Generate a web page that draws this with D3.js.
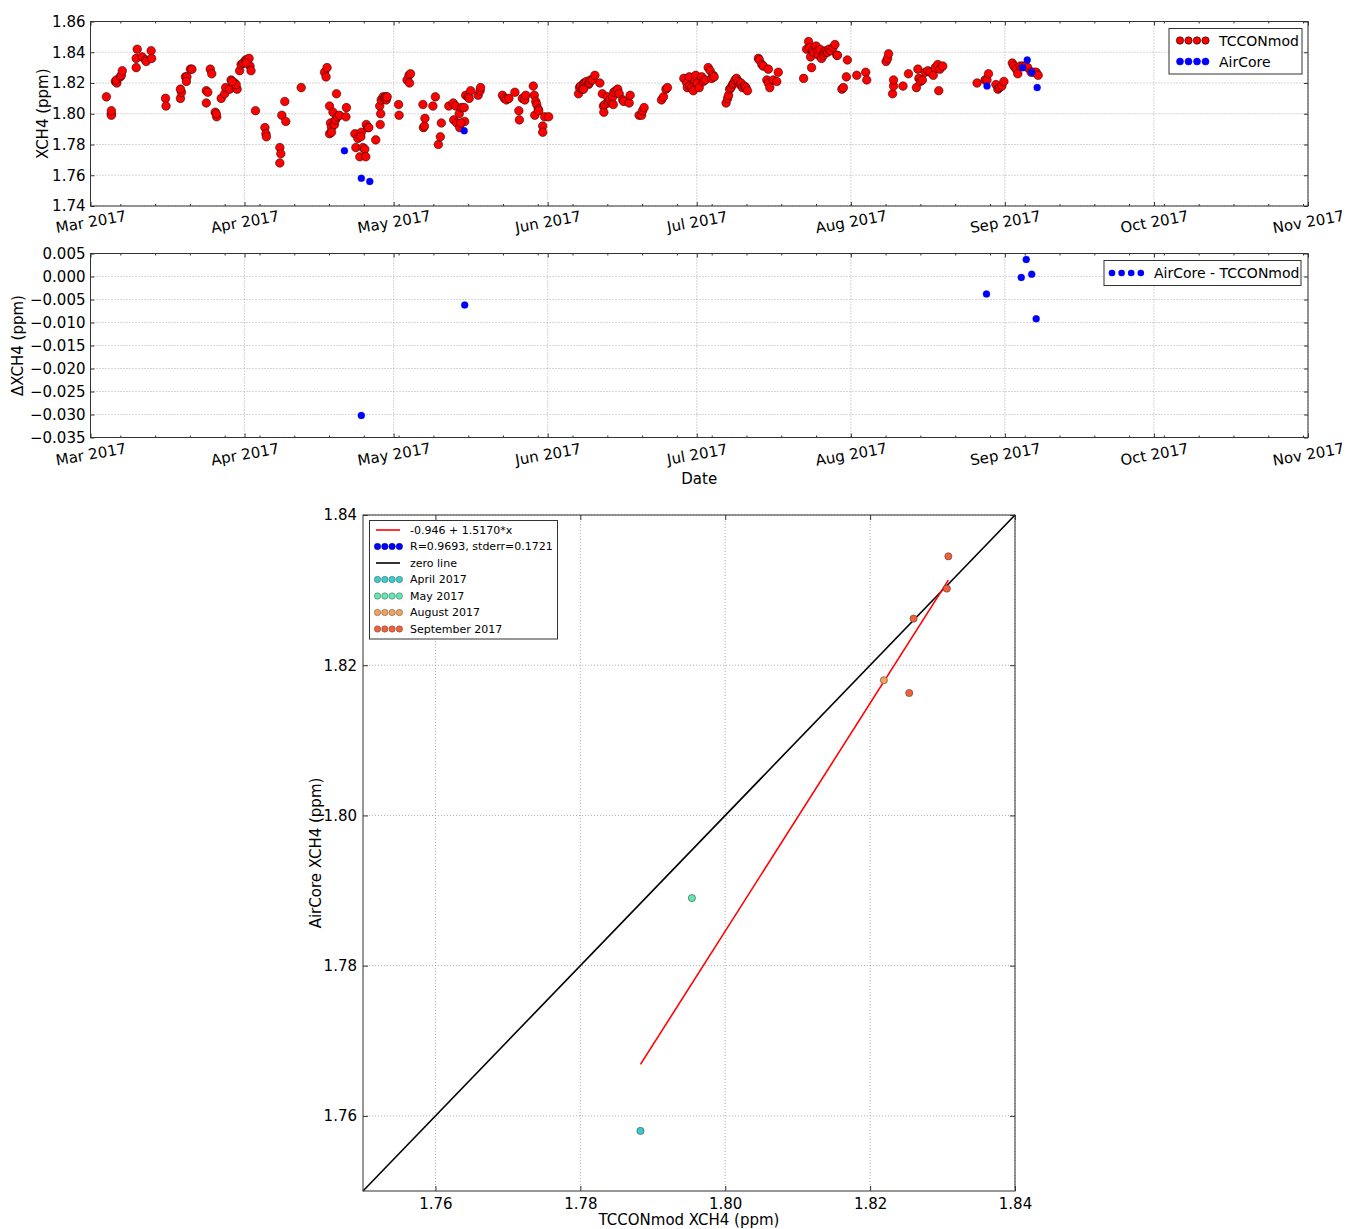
<!DOCTYPE html>
<html><head><meta charset="utf-8">
<script src="https://cdn.jsdelivr.net/npm/d3@7"></script>
<style>body{margin:0;background:#fff} svg text{font-family:"DejaVu Sans",sans-serif;fill:#000}</style>
</head><body><svg id="c" width="1346" height="1229"></svg>
<script>
// ---------------- DATA ----------------
// TCCONmod XCH4 (fractional day of year 2017, ppm)
const tcconDoy = [63.2,64.2,64.2,64.2,65.0,65.3,65.2,66.0,66.2,66.4,69.2,69.2,69.4,70.4,71.1,71.2,72.2,72.3,75.1,75.2,
78.1,78.3,78.1,79.1,79.4,79.3,80.1,80.4,83.3,83.3,83.6,84.1,84.4,85.1,85.4,85.3,86.3,87.0,87.2,88.0,
88.3,89.0,89.3,89.5,89.3,88.5,90.0,90.3,90.7,91.2,91.5,91.9,92.1,92.3,91.3,93.2,95.1,95.3,95.4,98.1,
98.3,98.1,98.5,99.1,99.3,102.4,107.1,107.4,107.6,108.1,108.3,108.5,108.1,108.5,108.8,109.1,109.5,109.3,109.7,110.1,
111.5,111.4,113.2,113.4,113.8,114.2,114.5,114.4,114.8,115.2,115.5,115.4,115.8,116.0,117.4,118.2,118.4,118.3,118.5,118.9,
119.2,119.5,119.4,119.7,122.0,122.1,123.7,124.1,124.2,124.4,126.9,127.0,127.2,127.3,128.9,129.4,130.0,130.4,130.6,132.1,
133.0,133.5,133.1,133.7,134.2,134.3,134.7,135.2,135.3,134.5,135.5,136.0,136.5,136.2,138.0,138.4,138.5,142.9,143.3,143.7,
144.2,145.4,146.2,146.3,146.9,147.4,147.6,149.1,149.3,149.6,149.8,150.1,149.4,150.2,151.0,151.0,151.4,152.2,158.2,158.4,
158.6,159.0,159.3,159.5,159.8,160.2,160.4,160.6,161.0,161.5,159.2,162.5,163.0,163.2,163.3,163.5,164.0,164.2,164.5,164.9,
165.1,165.2,165.3,165.7,166.1,166.4,167.1,167.3,168.4,168.6,170.4,170.9,171.1,171.4,174.9,175.3,175.8,176.1,179.4,180.0,
180.1,180.5,180.6,181.0,181.3,181.6,181.8,182.1,182.5,183.0,183.3,183.7,184.3,184.7,185.0,185.3,185.5,187.9,188.2,188.4,
188.6,188.9,189.2,189.4,189.7,190.0,190.4,190.7,190.9,191.2,191.6,191.9,192.2,194.4,194.6,195.1,195.4,196.4,196.1,196.4,
196.7,197.4,198.1,198.4,203.5,204.1,204.5,204.7,204.9,205.1,205.3,205.6,206.0,206.3,206.5,206.8,207.1,207.5,207.7,208.0,
208.3,208.6,209.0,209.4,209.8,210.2,210.3,211.2,211.5,212.1,212.3,214.2,216.0,216.2,220.1,220.4,220.6,221.4,221.6,221.6,
223.5,224.6,226.2,226.5,226.7,227.0,227.4,228.0,228.5,229.0,229.6,230.0,230.5,230.9,231.5,230.7,238.4,240.0,240.4,240.7,
242.2,242.6,242.9,243.4,243.8,245.5,245.8,246.3,246.6,247.1,247.6,248.1,248.6,249.3,249.8,250.3,250.7];
const tcconXch4 = [1.811,1.800,1.799,1.802,1.821,1.820,1.822,1.824,1.825,1.828,1.830,1.836,1.842,1.837,1.835,1.834,1.841,1.836,1.810,1.805,
1.810,1.814,1.816,1.824,1.824,1.821,1.829,1.829,1.807,1.815,1.814,1.829,1.826,1.801,1.798,1.800,1.810,1.813,1.817,1.816,
1.822,1.820,1.817,1.816,1.819,1.821,1.828,1.832,1.833,1.835,1.835,1.836,1.831,1.828,1.833,1.802,1.791,1.787,1.785,1.778,
1.774,1.768,1.799,1.808,1.795,1.817,1.827,1.824,1.830,1.805,1.794,1.791,1.787,1.788,1.801,1.793,1.813,1.796,1.798,1.799,
1.804,1.798,1.787,1.778,1.784,1.772,1.788,1.785,1.778,1.777,1.793,1.772,1.791,1.791,1.783,1.805,1.800,1.793,1.809,1.811,
1.810,1.809,1.811,1.811,1.806,1.799,1.822,1.825,1.820,1.826,1.806,1.791,1.792,1.797,1.805,1.811,1.780,1.785,1.794,1.805,
1.807,1.805,1.796,1.794,1.800,1.791,1.804,1.804,1.795,1.794,1.812,1.811,1.815,1.810,1.812,1.815,1.817,1.812,1.810,1.809,
1.810,1.814,1.802,1.796,1.810,1.809,1.812,1.818,1.812,1.808,1.806,1.803,1.799,1.802,1.792,1.788,1.798,1.798,1.813,1.817,
1.818,1.816,1.820,1.820,1.821,1.819,1.820,1.822,1.822,1.825,1.816,1.820,1.813,1.805,1.801,1.806,1.811,1.807,1.809,1.807,
1.811,1.806,1.814,1.815,1.816,1.813,1.809,1.808,1.807,1.812,1.799,1.799,1.802,1.804,1.809,1.811,1.816,1.817,1.823,1.820,
1.817,1.824,1.818,1.817,1.815,1.821,1.825,1.820,1.817,1.824,1.821,1.822,1.830,1.828,1.823,1.825,1.824,1.807,1.810,1.812,
1.816,1.817,1.819,1.820,1.822,1.823,1.821,1.819,1.820,1.817,1.818,1.817,1.815,1.836,1.835,1.832,1.831,1.829,1.822,1.820,
1.817,1.822,1.821,1.827,1.823,1.842,1.847,1.843,1.837,1.830,1.841,1.840,1.844,1.841,1.838,1.842,1.836,1.838,1.840,1.841,
1.840,1.842,1.841,1.843,1.845,1.838,1.838,1.816,1.817,1.824,1.835,1.825,1.827,1.822,1.834,1.836,1.839,1.813,1.818,1.822,
1.818,1.826,1.817,1.829,1.823,1.821,1.822,1.827,1.828,1.827,1.825,1.830,1.832,1.829,1.831,1.815,1.820,1.822,1.822,1.826,
1.819,1.816,1.817,1.818,1.821,1.833,1.831,1.829,1.826,1.831,1.831,1.831,1.830,1.827,1.827,1.827,1.825];
// AirCore XCH4
const aircoreDoy  = [111.1,114.5,116.2,135.2,240.4,247.6,248.5,249.4,250.5];
const aircoreXch4 = [1.776,1.758,1.756,1.789,1.818,1.830,1.835,1.827,1.817];
// AirCore - TCCONmod
const diffDoy  = [114.5,135.3,240.3,247.3,248.3,249.4,250.3];
const diffXch4 = [-0.0302,-0.0062,-0.0038,-0.0002,0.0037,0.0005,-0.0092];
// Scatter: TCCONmod vs AirCore, grouped by month
const monthLabels = ["April 2017","May 2017","August 2017","September 2017"];
const monthColors = ["#38cccf","#5fe8b2","#f5a15a","#f45f36"];
const scatterMonth   = [0,1,2,3,3,3,3];
const scatterTccon   = [1.7883,1.7954,1.8219,1.8260,1.8254,1.8306,1.8308];
const scatterAircore = [1.7580,1.7890,1.8180,1.8262,1.8163,1.8302,1.8345];
const fitIntercept = -0.946, fitSlope = 1.5170;
const fitLabel = "-0.946 + 1.5170*x";
const statsLabel = "R=0.9693, stderr=0.1721";
// Tick values
const topYTicks = [1.74,1.76,1.78,1.80,1.82,1.84,1.86];
const diffYTicks = [-0.035,-0.030,-0.025,-0.020,-0.015,-0.010,-0.005,0.000,0.005];
const scatterTicks = [1.76,1.78,1.80,1.82,1.84];

// ---------------- DRAWING ----------------
const svg = d3.select("#c");
const EDGE = "#333";
const toDate = d => new Date(Date.UTC(2017,0,1) + (d-1)*864e5);
const t0 = new Date(Date.UTC(2017,2,1)), t1 = new Date(Date.UTC(2017,10,1));
const L = 90.5, R = 1308;
const x = d3.scaleUtc().domain([t0,t1]).range([0, R-L]);
const months = d3.utcMonth.range(t0, new Date(Date.UTC(2017,10,2)));
const tuesdays = d3.utcTuesday.range(t0, t1);

function styleAxis(g, fs){
  g.attr("font-family","DejaVu Sans").attr("font-size",fs);
  g.select(".domain").remove();
  g.selectAll(".tick line").attr("stroke",EDGE).attr("stroke-width",1);
  g.selectAll("text").attr("fill","#000");
}

function timePanel(top, bottom, y, yTicks, yFmt, labelOffset){
  const w = R-L, h = bottom-top;
  const g = svg.append("g").attr("transform",`translate(${L},${top})`);
  g.append("g").selectAll("line").data(months).join("line")
    .attr("x1",d=>x(d)).attr("x2",d=>x(d)).attr("y1",0).attr("y2",h)
    .attr("stroke","#9a9a9a").attr("stroke-width",0.8).attr("stroke-dasharray","1,2");
  g.append("g").selectAll("line").data(yTicks).join("line")
    .attr("x1",0).attr("x2",w).attr("y1",d=>y(d)).attr("y2",d=>y(d))
    .attr("stroke","#9a9a9a").attr("stroke-width",0.8).attr("stroke-dasharray","1,2");
  const gb = g.append("g").attr("transform",`translate(0,${h})`)
    .call(d3.axisBottom(x).tickValues(months).tickSize(-4).tickSizeOuter(0).tickFormat(d3.utcFormat("%b %Y")));
  styleAxis(gb,15);
  gb.selectAll("text").attr("y",null).attr("dy",null)
    .attr("transform",`translate(0,${labelOffset}) rotate(-10)`).attr("dominant-baseline","central");
  styleAxis(g.append("g").attr("transform",`translate(0,${h})`)
    .call(d3.axisBottom(x).tickValues(tuesdays).tickSize(-2).tickSizeOuter(0).tickFormat("")),15);
  styleAxis(g.append("g").call(d3.axisTop(x).tickValues(months).tickSize(-4).tickSizeOuter(0).tickFormat("")),15);
  styleAxis(g.append("g").call(d3.axisTop(x).tickValues(tuesdays).tickSize(-2).tickSizeOuter(0).tickFormat("")),15);
  styleAxis(g.append("g").call(d3.axisLeft(y).tickValues(yTicks).tickSize(-4).tickSizeOuter(0).tickPadding(5).tickFormat(yFmt)),15);
  styleAxis(g.append("g").attr("transform",`translate(${w},0)`)
    .call(d3.axisRight(y).tickValues(yTicks).tickSize(-4).tickSizeOuter(0).tickFormat("")),15);
  return g;
}

function legendDots(g, cx, cy, color, stroke, r){
  for(let i=0;i<4;i++){
    g.append("circle").attr("cx",cx+i*8.5).attr("cy",cy).attr("r",r)
      .attr("fill",color).attr("stroke",stroke).attr("stroke-width",0.6);
  }
}

// ---- Panel 1: time series ----
const p1Top = 21.5, p1Bot = 206;
const y1 = d3.scaleLinear().domain([1.74,1.86]).range([p1Bot-p1Top,0]);
const g1 = timePanel(p1Top, p1Bot, y1, topYTicks, d3.format(".2f"), 16);
g1.append("g").selectAll("circle").data(tcconDoy).join("circle")
  .attr("cx",(d)=>x(toDate(d))).attr("cy",(d,i)=>y1(tcconXch4[i])).attr("r",4.3)
  .attr("fill","#ff0000").attr("stroke","#000").attr("stroke-width",0.5);
g1.append("g").selectAll("circle").data(aircoreDoy).join("circle")
  .attr("cx",(d)=>x(toDate(d))).attr("cy",(d,i)=>y1(aircoreXch4[i])).attr("r",3.5)
  .attr("fill","#0000ff").attr("stroke","#0000ff").attr("stroke-width",0.3);
g1.append("rect").attr("x",0).attr("y",0).attr("width",R-L).attr("height",p1Bot-p1Top)
  .attr("fill","none").attr("stroke",EDGE).attr("stroke-width",1);
{
  const lg = svg.append("g");
  lg.append("rect").attr("x",1169).attr("y",28.5).attr("width",133).attr("height",45.5)
    .attr("fill","#fff").attr("stroke",EDGE).attr("stroke-width",1);
  legendDots(lg,1180,40.5,"#ff0000","#000",3.7);
  legendDots(lg,1180,61.5,"#0000ff","#0000ff",3.5);
  lg.append("text").attr("x",1219).attr("y",40.5).attr("dominant-baseline","central").attr("font-size",14).text("TCCONmod");
  lg.append("text").attr("x",1219).attr("y",61.5).attr("dominant-baseline","central").attr("font-size",14).text("AirCore");
}
svg.append("text").attr("transform",`translate(43,${(p1Top+p1Bot)/2}) rotate(-90)`)
  .attr("text-anchor","middle").attr("dominant-baseline","central").attr("font-size",15).text("XCH4 (ppm)");

// ---- Panel 2: difference ----
const p2Top = 253.5, p2Bot = 437.5;
const y2 = d3.scaleLinear().domain([-0.035,0.005]).range([p2Bot-p2Top,0]);
const g2 = timePanel(p2Top, p2Bot, y2, diffYTicks, d3.format(".3f"), 17);
g2.append("g").selectAll("circle").data(diffDoy).join("circle")
  .attr("cx",(d)=>x(toDate(d))).attr("cy",(d,i)=>y2(diffXch4[i])).attr("r",3.5)
  .attr("fill","#0000ff").attr("stroke","#0000ff").attr("stroke-width",0.3);
g2.append("rect").attr("x",0).attr("y",0).attr("width",R-L).attr("height",p2Bot-p2Top)
  .attr("fill","none").attr("stroke",EDGE).attr("stroke-width",1);
{
  const lg = svg.append("g");
  lg.append("rect").attr("x",1104).attr("y",260.5).attr("width",197).attr("height",25)
    .attr("fill","#fff").attr("stroke",EDGE).attr("stroke-width",1);
  for(let i=0;i<4;i++) lg.append("circle").attr("cx",1112+i*9.6).attr("cy",273).attr("r",3.3).attr("fill","#0000ff");
  lg.append("text").attr("x",1154).attr("y",273).attr("dominant-baseline","central").attr("font-size",14).text("AirCore - TCCONmod");
}
svg.append("text").attr("transform",`translate(18,${(p2Top+p2Bot)/2}) rotate(-90)`)
  .attr("text-anchor","middle").attr("dominant-baseline","central").attr("font-size",15).text("ΔXCH4 (ppm)");
svg.append("text").attr("x",(L+R)/2).attr("y",479).attr("text-anchor","middle")
  .attr("dominant-baseline","central").attr("font-size",15).text("Date");

// ---- Panel 3: scatter ----
const sL = 363, sR = 1015, sT = 515, sB = 1191;
const sw = sR-sL, sh = sB-sT;
const xs = d3.scaleLinear().domain([1.75,1.84]).range([0,sw]);
const ys = d3.scaleLinear().domain([1.75,1.84]).range([sh,0]);
const g3 = svg.append("g").attr("transform",`translate(${sL},${sT})`);
g3.append("g").selectAll("line").data(scatterTicks).join("line")
  .attr("x1",d=>xs(d)).attr("x2",d=>xs(d)).attr("y1",0).attr("y2",sh)
  .attr("stroke","#9a9a9a").attr("stroke-width",0.8).attr("stroke-dasharray","1,2");
g3.append("g").selectAll("line").data(scatterTicks).join("line")
  .attr("x1",0).attr("x2",sw).attr("y1",d=>ys(d)).attr("y2",d=>ys(d))
  .attr("stroke","#9a9a9a").attr("stroke-width",0.8).attr("stroke-dasharray","1,2");
const f2 = d3.format(".2f");
styleAxis(g3.append("g").attr("transform",`translate(0,${sh})`)
  .call(d3.axisBottom(xs).tickValues(scatterTicks).tickSize(-5).tickSizeOuter(0).tickPadding(7).tickFormat(f2)),15);
styleAxis(g3.append("g").call(d3.axisTop(xs).tickValues(scatterTicks).tickSize(-5).tickSizeOuter(0).tickFormat("")),15);
styleAxis(g3.append("g").call(d3.axisLeft(ys).tickValues(scatterTicks).tickSize(-5).tickSizeOuter(0).tickPadding(6).tickFormat(f2)),15);
styleAxis(g3.append("g").attr("transform",`translate(${sw},0)`)
  .call(d3.axisRight(ys).tickValues(scatterTicks).tickSize(-5).tickSizeOuter(0).tickFormat("")),15);
g3.append("line").attr("x1",xs(1.75)).attr("y1",ys(1.75)).attr("x2",xs(1.84)).attr("y2",ys(1.84))
  .attr("stroke","#000").attr("stroke-width",1.6);
const [xmin,xmax] = d3.extent(scatterTccon);
g3.append("line").attr("x1",xs(xmin)).attr("y1",ys(fitIntercept+fitSlope*xmin))
  .attr("x2",xs(xmax)).attr("y2",ys(fitIntercept+fitSlope*xmax))
  .attr("stroke","#ff0000").attr("stroke-width",1.6);
g3.append("g").selectAll("circle").data(scatterTccon).join("circle")
  .attr("cx",d=>xs(d)).attr("cy",(d,i)=>ys(scatterAircore[i])).attr("r",3.6)
  .attr("fill",(d,i)=>monthColors[scatterMonth[i]]).attr("stroke","#444").attr("stroke-width",0.6);
g3.append("rect").attr("width",sw).attr("height",sh).attr("fill","none").attr("stroke",EDGE).attr("stroke-width",1);
{
  const lg = svg.append("g");
  lg.append("rect").attr("x",369.5).attr("y",520.5).attr("width",188).attr("height",118.5)
    .attr("fill","#fff").attr("stroke",EDGE).attr("stroke-width",1);
  const rows = [530,546.5,563,579.5,596,612.5,629];
  const tx = 410;
  lg.append("line").attr("x1",376).attr("x2",400).attr("y1",rows[0]).attr("y2",rows[0]).attr("stroke","#ff0000").attr("stroke-width",1.6);
  lg.append("text").attr("x",tx).attr("y",rows[0]).attr("dominant-baseline","central").attr("font-size",11).text(fitLabel);
  for(let i=0;i<4;i++) lg.append("circle").attr("cx",377.5+i*7.3).attr("cy",rows[1]).attr("r",3.2).attr("fill","#0000ff").attr("stroke","#000060").attr("stroke-width",0.5);
  lg.append("text").attr("x",tx).attr("y",rows[1]).attr("dominant-baseline","central").attr("font-size",11).text(statsLabel);
  lg.append("line").attr("x1",376).attr("x2",400).attr("y1",rows[2]).attr("y2",rows[2]).attr("stroke","#000").attr("stroke-width",1.6);
  lg.append("text").attr("x",tx).attr("y",rows[2]).attr("dominant-baseline","central").attr("font-size",11).text("zero line");
  monthLabels.forEach((m,k)=>{
    for(let i=0;i<4;i++) lg.append("circle").attr("cx",377.5+i*7.3).attr("cy",rows[3+k]).attr("r",3.2)
      .attr("fill",monthColors[k]).attr("stroke","#555").attr("stroke-width",0.5);
    lg.append("text").attr("x",tx).attr("y",rows[3+k]).attr("dominant-baseline","central").attr("font-size",11).text(m);
  });
}
svg.append("text").attr("x",(sL+sR)/2).attr("y",1220).attr("text-anchor","middle")
  .attr("dominant-baseline","central").attr("font-size",15).text("TCCONmod XCH4 (ppm)");
svg.append("text").attr("transform",`translate(316,${(sT+sB)/2}) rotate(-90)`)
  .attr("text-anchor","middle").attr("dominant-baseline","central").attr("font-size",15).text("AirCore XCH4 (ppm)");
</script></body></html>
